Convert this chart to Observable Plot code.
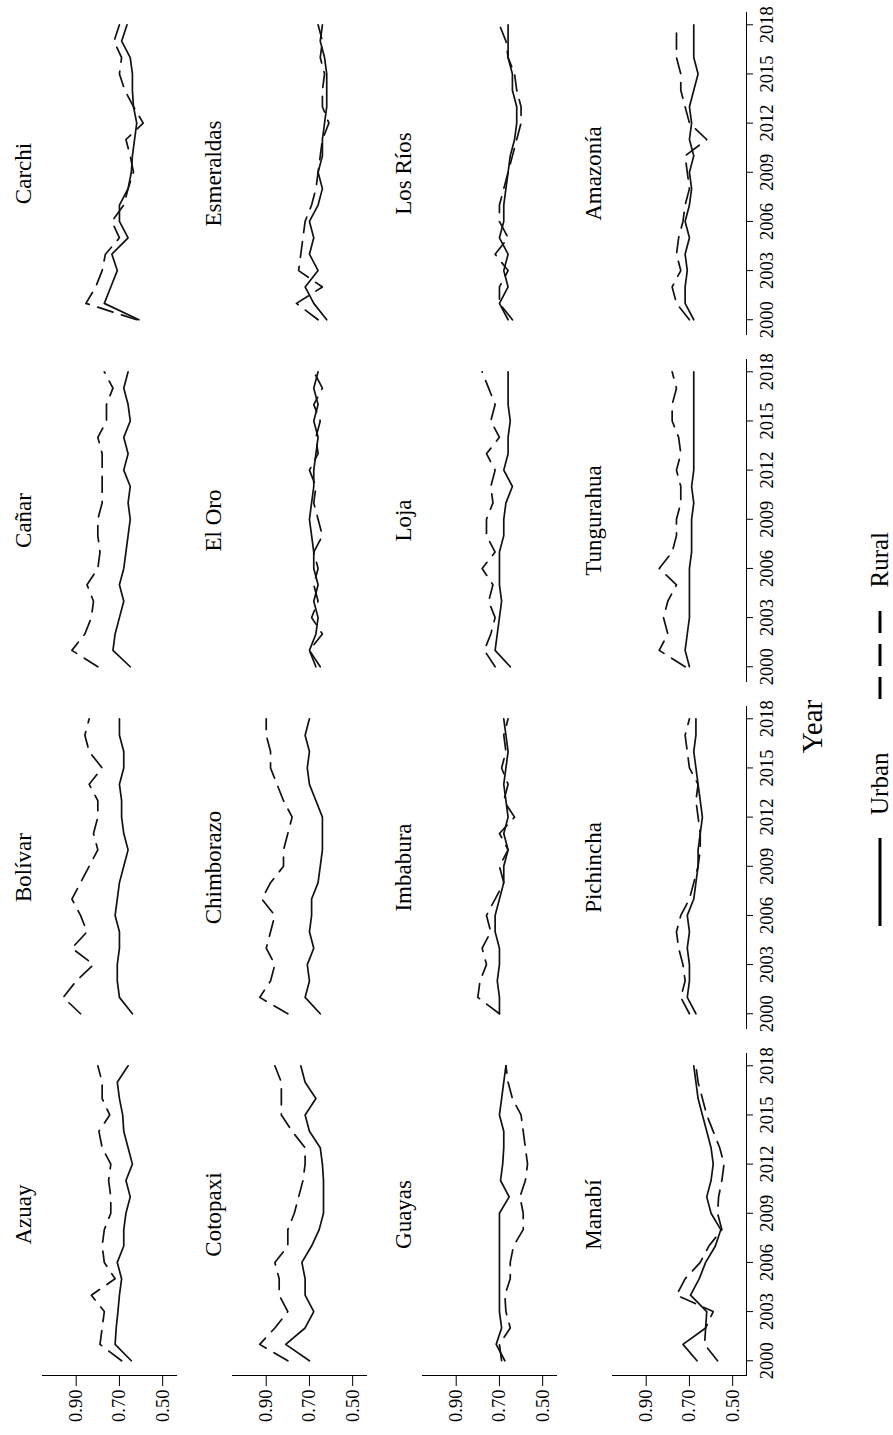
<!DOCTYPE html>
<html>
<head>
<meta charset="utf-8">
<script src="https://cdn.jsdelivr.net/npm/d3@7"></script>
<script src="https://cdn.jsdelivr.net/npm/@observablehq/plot@0.6"></script>
<style>
  html, body { margin: 0; padding: 0; background: #fff; overflow: hidden; }
  #fig {
    position: absolute; left: 0; top: 0;
    width: 1435px; height: 893px; background: #fff;
    transform-origin: 0 0;
    transform: translate(0px, 1435px) rotate(-90deg);
    font-family: "Liberation Serif", "Times New Roman", serif; color: #000;
  }
  #plot { position: absolute; left: 0; top: 0; }
  #xtitle { position: absolute; left: 0; width: 1417px; top: 798px; text-align: center; font-size: 29px; line-height: 29px; }
  #legend { position: absolute; left: 509px; top: 867px; display: flex; justify-content: flex-start; align-items: center; font-size: 25px; line-height: 25px; white-space: nowrap; }
  #legend svg.key { display: block; flex: none; }
  #legend .lab { margin-left: 23px; margin-right: 54px; }
  #legend .lab:last-child { margin-right: 0; }
</style>
</head>
<body>
<div id="fig">
  <div id="plot"></div>
  <div id="xtitle">Year</div>
  <div id="legend"></div>
</div>
<script>
const years = [2000,2001,2002,2003,2004,2005,2006,2007,2008,2009,2010,2011,2012,2013,2014,2015,2016,2017,2018];
const yearTicks = [2000,2003,2006,2009,2012,2015,2018];
const valueTicks = [0.50,0.70,0.90];
const provinces = ["Azuay","Bolívar","Cañar","Carchi","Cotopaxi","Chimborazo","El Oro","Esmeraldas","Guayas","Imbabura","Loja","Los Ríos","Manabí","Pichincha","Tungurahua","Amazonía"];
const seriesNames = ["Urban","Rural"];

const azuayUrban = [0.645,0.72,0.715,0.707,0.70,0.69,0.71,0.68,0.68,0.67,0.65,0.67,0.64,0.66,0.68,0.685,0.70,0.71,0.66];
const azuayRural = [0.69,0.79,0.78,0.77,0.83,0.72,0.77,0.78,0.77,0.74,0.74,0.75,0.74,0.78,0.795,0.745,0.78,0.78,0.80];
const bolivarUrban = [0.64,0.70,0.71,0.71,0.70,0.70,0.72,0.71,0.70,0.68,0.66,0.68,0.69,0.69,0.70,0.68,0.68,0.70,0.70];
const bolivarRural = [0.88,0.96,0.90,0.82,0.92,0.85,0.88,0.92,0.88,0.84,0.80,0.82,0.80,0.80,0.84,0.78,0.84,0.86,0.84];
const canarUrban = [0.65,0.73,0.72,0.70,0.68,0.70,0.68,0.67,0.66,0.65,0.66,0.65,0.68,0.66,0.68,0.65,0.66,0.68,0.66];
const canarRural = [0.80,0.92,0.86,0.83,0.82,0.85,0.80,0.79,0.80,0.80,0.78,0.78,0.78,0.78,0.80,0.76,0.76,0.73,0.77];
const carchiUrban = [0.61,0.77,0.74,0.71,0.735,0.66,0.70,0.70,0.66,0.645,0.64,0.63,0.62,0.635,0.64,0.64,0.65,0.69,0.665];
const carchiRural = [0.62,0.855,0.81,0.78,0.765,0.70,0.735,0.68,0.66,0.635,0.65,0.67,0.59,0.635,0.675,0.70,0.69,0.725,0.70];
const cotopaxiUrban = [0.70,0.81,0.72,0.68,0.72,0.72,0.735,0.69,0.655,0.635,0.635,0.635,0.64,0.65,0.70,0.72,0.67,0.72,0.74];
const cotopaxiRural = [0.80,0.93,0.86,0.80,0.84,0.84,0.86,0.80,0.80,0.77,0.75,0.73,0.72,0.72,0.78,0.83,0.83,0.83,0.86];
const chimborazoUrban = [0.65,0.72,0.70,0.71,0.68,0.70,0.69,0.69,0.66,0.65,0.64,0.64,0.64,0.67,0.70,0.71,0.70,0.72,0.70];
const chimborazoRural = [0.80,0.93,0.88,0.86,0.90,0.88,0.86,0.92,0.88,0.82,0.82,0.80,0.78,0.82,0.85,0.88,0.88,0.90,0.90];
const elOroUrban = [0.65,0.70,0.67,0.66,0.68,0.66,0.68,0.68,0.69,0.70,0.69,0.68,0.68,0.67,0.66,0.68,0.66,0.68,0.66];
const elOroRural = [0.67,0.70,0.64,0.69,0.66,0.68,0.66,0.68,0.64,0.66,0.68,0.67,0.70,0.66,0.67,0.65,0.68,0.64,0.68];
const esmeraldasUrban = [0.62,0.68,0.72,0.66,0.70,0.68,0.70,0.66,0.64,0.66,0.64,0.64,0.63,0.62,0.62,0.62,0.63,0.65,0.64];
const esmeraldasRural = [0.66,0.76,0.64,0.75,0.74,0.73,0.72,0.69,0.67,0.66,0.65,0.64,0.61,0.64,0.64,0.63,0.65,0.64,0.66];
const guayasUrban = [0.675,0.715,0.69,0.70,0.70,0.70,0.70,0.70,0.70,0.70,0.655,0.695,0.685,0.68,0.68,0.70,0.69,0.68,0.67];
const guayasRural = [0.69,0.70,0.65,0.67,0.675,0.65,0.65,0.635,0.59,0.59,0.605,0.58,0.57,0.58,0.59,0.60,0.64,0.66,0.67];
const imbaburaUrban = [0.70,0.70,0.71,0.70,0.70,0.72,0.72,0.70,0.68,0.68,0.66,0.68,0.66,0.67,0.68,0.67,0.66,0.67,0.68];
const imbaburaRural = [0.70,0.80,0.79,0.76,0.78,0.74,0.76,0.72,0.68,0.70,0.66,0.70,0.63,0.68,0.66,0.69,0.67,0.68,0.66];
const lojaUrban = [0.65,0.72,0.71,0.70,0.69,0.70,0.70,0.70,0.68,0.68,0.67,0.64,0.68,0.66,0.66,0.65,0.66,0.66,0.66];
const lojaRural = [0.72,0.77,0.74,0.72,0.75,0.73,0.78,0.72,0.76,0.76,0.73,0.74,0.72,0.76,0.70,0.74,0.72,0.75,0.78];
const losRiosUrban = [0.66,0.70,0.66,0.68,0.66,0.70,0.68,0.68,0.67,0.66,0.65,0.63,0.62,0.62,0.64,0.64,0.66,0.66,0.66];
const losRiosRural = [0.64,0.70,0.70,0.66,0.72,0.66,0.70,0.70,0.68,0.66,0.64,0.62,0.60,0.60,0.62,0.63,0.66,0.67,0.70];
const manabiUrban = [0.665,0.73,0.625,0.62,0.695,0.655,0.625,0.58,0.555,0.60,0.62,0.60,0.59,0.60,0.62,0.64,0.66,0.67,0.68];
const manabiRural = [0.57,0.63,0.625,0.59,0.76,0.72,0.65,0.61,0.55,0.57,0.565,0.55,0.54,0.56,0.59,0.62,0.64,0.66,0.67];
const pichinchaUrban = [0.67,0.71,0.70,0.70,0.71,0.70,0.71,0.68,0.67,0.66,0.66,0.65,0.64,0.65,0.66,0.67,0.68,0.67,0.67];
const pichinchaRural = [0.70,0.74,0.72,0.73,0.75,0.76,0.74,0.70,0.68,0.66,0.65,0.65,0.66,0.67,0.66,0.70,0.71,0.72,0.70];
const tungurahuaUrban = [0.70,0.72,0.71,0.70,0.70,0.70,0.70,0.69,0.69,0.69,0.68,0.69,0.68,0.68,0.68,0.68,0.68,0.68,0.68];
const tungurahuaRural = [0.72,0.84,0.80,0.82,0.80,0.76,0.84,0.78,0.76,0.76,0.74,0.74,0.76,0.74,0.75,0.78,0.78,0.76,0.78];
const amazoniaUrban = [0.68,0.72,0.72,0.71,0.72,0.70,0.72,0.70,0.69,0.70,0.68,0.70,0.69,0.70,0.68,0.66,0.68,0.68,0.68];
const amazoniaRural = [0.70,0.76,0.78,0.74,0.76,0.75,0.73,0.72,0.70,0.71,0.72,0.62,0.70,0.72,0.74,0.74,0.76,0.76,0.76];

const urbanSeries = [azuayUrban,bolivarUrban,canarUrban,carchiUrban,cotopaxiUrban,chimborazoUrban,elOroUrban,esmeraldasUrban,guayasUrban,imbaburaUrban,lojaUrban,losRiosUrban,manabiUrban,pichinchaUrban,tungurahuaUrban,amazoniaUrban];
const ruralSeries = [azuayRural,bolivarRural,canarRural,carchiRural,cotopaxiRural,chimborazoRural,elOroRural,esmeraldasRural,guayasRural,imbaburaRural,lojaRural,losRiosRural,manabiRural,pichinchaRural,tungurahuaRural,amazoniaRural];

const panels = provinces.map((name, i) => ({name, col: i % 4, row: Math.floor(i / 4)}));
const rows = [];
panels.forEach((p, i) => {
  years.forEach((yr, j) => {
    rows.push({province: p.name, col: p.col, row: p.row, year: yr, value: urbanSeries[i][j], series: "Urban"});
    rows.push({province: p.name, col: p.col, row: p.row, year: yr, value: ruralSeries[i][j], series: "Rural"});
  });
});
const urbanRows = rows.filter(d => d.series === "Urban");
const ruralRows = rows.filter(d => d.series === "Rural");

const chart = Plot.plot({
  width: 1435,
  height: 790,
  marginLeft: 57,
  marginRight: 11,
  marginTop: 40,
  marginBottom: 42,
  style: {fontFamily: "'Liberation Serif', 'Times New Roman', serif", fontSize: "18.5px", color: "#000", background: "#fff"},
  fx: {domain: [0,1,2,3], paddingInner: 0.0718, paddingOuter: 0, axis: null},
  fy: {domain: [0,1,2,3], paddingInner: 0.293, paddingOuter: 0, axis: null},
  x: {domain: [1999.1, 2018.75], ticks: yearTicks, tickFormat: d => String(d), tickSize: 7, tickPadding: 6, line: true, label: null},
  y: {domain: [0.436, 1.056], ticks: valueTicks, tickFormat: d3.format(".2f"), tickSize: 10, tickPadding: 4, line: true, label: null},
  marks: [
    Plot.line(urbanRows, {x: "year", y: "value", z: "province", fx: "col", fy: "row", stroke: "#111", strokeWidth: 1.7}),
    Plot.line(ruralRows, {x: "year", y: "value", z: "province", fx: "col", fy: "row", stroke: "#111", strokeWidth: 1.7, strokeDasharray: "16,9"}),
    Plot.text(panels, {fx: "col", fy: "row", text: "name", frameAnchor: "top", lineAnchor: "bottom", dy: -12, fontSize: 23, fill: "#000"})
  ]
});
document.getElementById("plot").appendChild(chart);

// legend below the plot
const legend = document.getElementById("legend");
const ns = "http://www.w3.org/2000/svg";
seriesNames.forEach(name => {
  const svg = document.createElementNS(ns, "svg");
  svg.setAttribute("width", 88); svg.setAttribute("height", 6);
  svg.setAttribute("class", "key");
  const ln = document.createElementNS(ns, "line");
  ln.setAttribute("x1", 0); ln.setAttribute("x2", 88); ln.setAttribute("y1", 3); ln.setAttribute("y2", 3);
  ln.setAttribute("stroke", "#000"); ln.setAttribute("stroke-width", 3);
  if (name === "Rural") ln.setAttribute("stroke-dasharray", "22,11");
  svg.appendChild(ln);
  legend.appendChild(svg);
  const lab = document.createElement("span");
  lab.className = "lab";
  lab.textContent = name;
  legend.appendChild(lab);
});
</script>
</body>
</html>
